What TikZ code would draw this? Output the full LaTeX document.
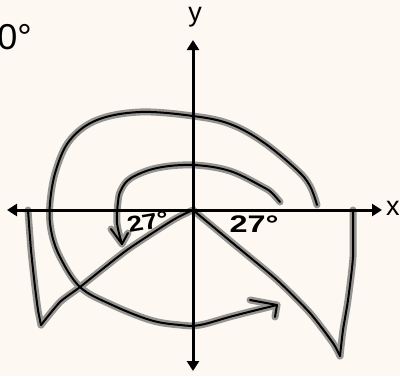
\documentclass[tikz,border=0pt]{standalone}
\usepackage{fontspec}
\setmainfont{Liberation Sans}
\usetikzlibrary{arrows.meta}
\definecolor{bg}{RGB}{253,248,241}
\definecolor{halocol}{RGB}{150,148,145}
\tikzset{
  ink/.style={line width=2pt, line cap=round, line join=round, draw=black},
  halo/.style={line width=7pt, line cap=round, line join=round, draw=halocol},
  axis/.style={line width=3pt, {Triangle[length=10pt,width=12pt]}-{Triangle[length=10pt,width=12pt]}},
  lbl/.style={font=\fontsize{27}{30}\selectfont, inner sep=0pt},
  hand/.style={font=\fontsize{24}{26}\selectfont\bfseries, inner sep=0pt}
}
\newcommand\mystrokes[1]{%
  % outer spiral
  \draw[#1] plot[smooth, tension=0.6] coordinates {(317,205) (310,186) (297,170) (263,142) (230,124) (193,116) (140,112) (97,120) (70,140) (56,170) (50,203) (51,230) (60,257) (80,287) (110,304) (150,320) (180,325) (200,325) (233,316) (277,305)};
  \draw[#1] (250,300) -- (277,305) -- (275,317);
  % inner spiral
  \draw[#1] plot[smooth, tension=0.6] coordinates {(280,202) (272,193) (263,187) (230,171) (193,165) (157,168) (131,178) (121,190) (118,202) (117,223) (122,244)};
  \draw[#1] (111,229) -- (122,244) -- (128,233);
  % left wedge
  \draw[#1] plot[smooth, tension=0.4] coordinates {(28,210) (31,250) (35,287) (38,310) (41,325)};
  \draw[#1] plot[smooth, tension=0.4] coordinates {(41,325) (60,302) (80,287) (127,250) (173,220) (193,210)};
  % right wedge
  \draw[#1] plot[smooth, tension=0.4] coordinates {(193,210) (235,245) (277,280) (310,313) (333,343) (340,356)};
  \draw[#1] plot[smooth, tension=0.4] coordinates {(340,356) (343,330) (348,300) (353,257) (353,210)};
}
\begin{document}
\begin{tikzpicture}[x=1pt,y=-1pt]
\fill[bg] (0,0) rectangle (400,376);
\useasboundingbox (0,0) rectangle (400,376);
\mystrokes{halo}
\mystrokes{ink}
\coordinate (O) at (193,210);
\coordinate (L) at (7,210);
\coordinate (R) at (382,210);
\coordinate (T) at (193,40);
\coordinate (B) at (193,371);
\draw[axis] (L) -- (R);
\draw[axis] (B) -- (T);
\node[lbl, anchor=base] (ylab) at (195,21) {y};
\node[lbl, anchor=base west] (xlab) at (386,215) {x};
\node[anchor=base east, inner sep=0pt, font=\fontsize{36}{40}\selectfont] (ang) at (32,49) {0°};
\node[hand, font=\fontsize{22}{24}\selectfont\bfseries, xscale=1.25, rotate=12] (a1) at (148,222) {27°};
\node[hand, xscale=1.35] (a2) at (254,224) {27°};
\end{tikzpicture}
\end{document}
